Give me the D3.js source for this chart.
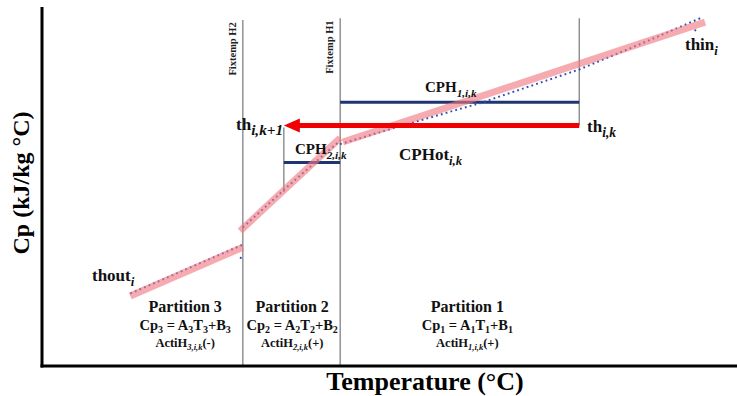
<!DOCTYPE html>
<html>
<head>
<meta charset="utf-8">
<script src="https://cdn.jsdelivr.net/npm/d3@7"></script>
<style>
	body { margin: 0; background: #fff; }
</style>
</head>
<body>
<script>
// chart units: temperature 0..100 (x), Cp 0..100 (y), no ticks shown

// linear fits per partition [T, Cp]
var fit1 = [[43.3, 62.4], [95.4, 95.8]]
var fit2 = [[28.5, 37.6], [42.9, 63.5]]
var fit3 = [[12.7, 19.5], [28.9, 33.1]]

// raw data (blue dots)
var raw1 = [[42.9, 61.8], [51.5, 66.8], [63.0, 73.2], [77.3, 82.6], [86.0, 89.6], [95.1, 97.2]]
var raw2 = [[28.9, 38.6], [35.7, 50.6], [42.9, 62.8]]
var raw3 = [[12.7, 20.2], [28.9, 33.8]]
var rawStray = [[28.6, 30.1], [94.0, 93.5]]

// fixed temperatures
var fixtemps = [
	{ name: "Fixtemp H2", t: 28.9, top: 96.4 },
	{ name: "Fixtemp H1", t: 42.9, top: 96.9 }
]

var thik = 77.3      // th i,k
var thik1 = 34.8     // th i,k+1
var thLevel = 67.0   // arrow level
var cph1 = 73.5
var cph2 = 56.7
var thikTop = 96.9
var thik1Bottom = 48.5

var partitions = [
	{ name: "Partition 3", eq: ["Cp", "3", " = A", "3", "T", "3", "+B", "3"], act: ["ActiH", "3,i,k", "(-)"], t: 20.6 },
	{ name: "Partition 2", eq: ["Cp", "2", " = A", "2", "T", "2", "+B", "2"], act: ["ActiH", "2,i,k", "(+)"], t: 36.0 },
	{ name: "Partition 1", eq: ["Cp", "1", " = A", "1", "T", "1", "+B", "1"], act: ["ActiH", "1,i,k", "(+)"], t: 61.2 }
]

var W = 737, H = 396
var FONT = "'Liberation Serif', 'DejaVu Serif', serif"

var svg = d3.select("body").append("svg")
	.attr("width", W)
	.attr("height", H)
	.attr("font-family", FONT)
	.attr("font-weight", "bold")
	.style("display", "block")

var x = d3.scaleLinear().domain([0, 100]).range([42, 737])
var y = d3.scaleLinear().domain([0, 100]).range([366, 7])

var line = d3.line().x(function(d) { return x(d[0]) }).y(function(d) { return y(d[1]) })

// fixtemp lines
fixtemps.forEach(function(f) {
	svg.append("line")
		.attr("x1", x(f.t)).attr("x2", x(f.t))
		.attr("y1", y(f.top)).attr("y2", y(0))
		.attr("stroke", "#777").attr("stroke-width", 1.2)
	svg.append("text")
		.attr("transform", "translate(" + (x(f.t) - 7) + "," + (y(f.top) + 29) + ") rotate(-90)")
		.attr("text-anchor", "middle")
		.attr("font-size", 10.5)
		.attr("fill", "#222")
		.text(f.name)
})

// th i,k and th i,k+1 vertical markers
svg.append("line")
	.attr("x1", x(thik)).attr("x2", x(thik))
	.attr("y1", y(thikTop)).attr("y2", y(thLevel))
	.attr("stroke", "#777").attr("stroke-width", 1.2)
svg.append("line")
	.attr("x1", x(thik1)).attr("x2", x(thik1))
	.attr("y1", y(thLevel) + 2).attr("y2", y(thik1Bottom))
	.attr("stroke", "#777").attr("stroke-width", 1.2)

// CPH lines
svg.append("line")
	.attr("x1", x(42.9)).attr("x2", x(thik))
	.attr("y1", y(cph1)).attr("y2", y(cph1))
	.attr("stroke", "#1f3470").attr("stroke-width", 3)
svg.append("line")
	.attr("x1", x(thik1)).attr("x2", x(42.9))
	.attr("y1", y(cph2)).attr("y2", y(cph2))
	.attr("stroke", "#1f3470").attr("stroke-width", 3)

// raw data dots (under the fit, as in the source)
;[raw1, raw2, raw3].forEach(function(r) {
	svg.append("path")
		.attr("d", line(r))
		.attr("fill", "none")
		.attr("stroke", "#2f4fb8")
		.attr("stroke-width", 2)
		.attr("stroke-dasharray", "1.8,3.2")
})
svg.selectAll("circle.stray").data(rawStray).enter().append("circle")
	.attr("cx", function(d) { return x(d[0]) })
	.attr("cy", function(d) { return y(d[1]) })
	.attr("r", 1.1)
	.attr("fill", "#2f4fb8")

// fits (pink thick, translucent)
;[fit1, fit2, fit3].forEach(function(f) {
	svg.append("path")
		.attr("d", line(f))
		.attr("fill", "none")
		.attr("stroke", "#f07880")
		.attr("stroke-opacity", 0.62)
		.attr("stroke-width", 7)
})

// arrow
svg.append("line")
	.attr("x1", x(thik)).attr("x2", x(thik1) + 14)
	.attr("y1", y(thLevel)).attr("y2", y(thLevel))
	.attr("stroke", "#f00000").attr("stroke-width", 5)
svg.append("path")
	.attr("d", "M" + x(thik1) + "," + y(thLevel) + "l16,-7l0,14z")
	.attr("fill", "#f00000")

// axes
svg.append("line").attr("x1", x(0)).attr("x2", x(0)).attr("y1", y(100)).attr("y2", y(0) + 1.5)
	.attr("stroke", "#000").attr("stroke-width", 3)
svg.append("line").attr("x1", x(0) - 1.5).attr("x2", W).attr("y1", y(0)).attr("y2", y(0))
	.attr("stroke", "#000").attr("stroke-width", 3)

svg.append("text")
	.attr("transform", "translate(29,183) rotate(-90)")
	.attr("text-anchor", "middle")
	.attr("font-size", 24)
	.text("Cp (kJ/kg °C)")
svg.append("text")
	.attr("x", 425).attr("y", 390)
	.attr("text-anchor", "middle")
	.attr("font-size", 26)
	.text("Temperature (°C)")

// label with subscript helper
function subLabel(px, py, main, sub, size, ratio) {
	var t = svg.append("text")
		.attr("x", px).attr("y", py)
		.attr("font-size", size)
		.attr("fill", "#111")
	t.append("tspan").text(main)
	t.append("tspan").attr("dy", size * 0.3).attr("font-size", size * (ratio || 0.75)).attr("font-style", "italic").text(sub)
	return t
}

subLabel(236, 130, "th", "i,k+1", 17, 0.9)
subLabel(587, 132, "th", "i,k", 17, 0.8)
subLabel(425, 92, "CPH", "1,i,k", 15)
subLabel(295, 154, "CPH", "2,i,k", 15)
subLabel(399, 160, "CPHot", "i,k", 17)
subLabel(685, 50, "thin", "i", 17)
subLabel(92, 281, "thout", "i", 17)

// partition labels
partitions.forEach(function(p) {
	var cx = x(p.t)
	svg.append("text")
		.attr("x", cx).attr("y", 312)
		.attr("text-anchor", "middle")
		.attr("font-size", 16)
		.attr("fill", "#111")
		.text(p.name)
	var eq = svg.append("text")
		.attr("x", cx).attr("y", 330)
		.attr("text-anchor", "middle")
		.attr("font-size", 14.5)
		.attr("fill", "#111")
	p.eq.forEach(function(s, i) {
		var ts = eq.append("tspan").text(s)
		if (i % 2 == 1) ts.attr("font-size", 10).attr("dy", 3)
		else if (i > 0) ts.attr("dy", -3)
	})
	var act = svg.append("text")
		.attr("x", cx).attr("y", 347)
		.attr("text-anchor", "middle")
		.attr("font-size", 12.5)
		.attr("fill", "#111")
	act.append("tspan").text(p.act[0])
	act.append("tspan").attr("font-size", 8.5).attr("font-style", "italic").attr("dy", 2.5).text(p.act[1])
	act.append("tspan").attr("dy", -2.5).text(p.act[2])
})
</script>
</body>
</html>
